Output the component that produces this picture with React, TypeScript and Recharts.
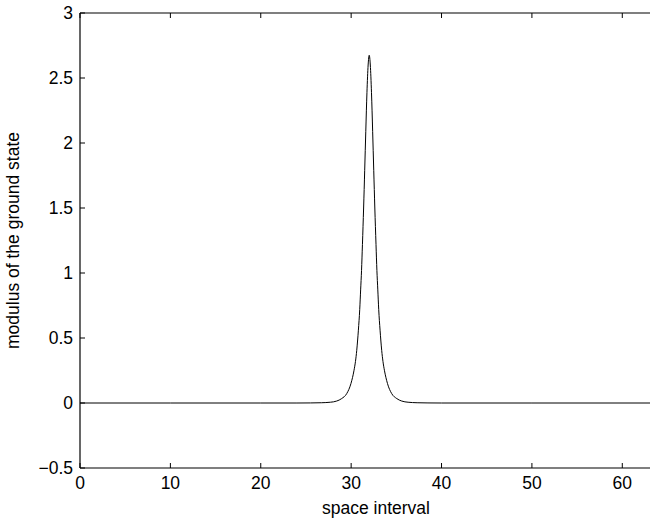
import { Line, LineChart, XAxis, YAxis } from 'recharts'

// sampled read-off of the ground state modulus along the space interval
const xs = [
  0, 10, 20, 24, 25.5, 26.7, 27.7, 28.4, 28.95, 29.51, 29.98, 30.32, 30.48, 30.62, 30.8, 30.95, 31.05,
  31.15, 31.25, 31.38, 31.5, 31.62, 31.75, 31.88, 32, 32.12, 32.25, 32.38, 32.5, 32.62, 32.75, 32.85,
  32.95, 33.05, 33.2, 33.38, 33.52, 33.68, 34.02, 34.49, 35.05, 35.6, 36.3, 37.3, 38.5, 40, 50, 65.5,
]
const ys = [
  0, 0, 0, 0, 0.0005, 0.002, 0.006, 0.015, 0.034, 0.072, 0.15, 0.252, 0.32, 0.405, 0.56, 0.72, 0.87,
  1.02, 1.22, 1.5, 1.79, 2.09, 2.39, 2.6, 2.675, 2.6, 2.39, 2.09, 1.79, 1.5, 1.22, 1.02,
  0.87, 0.72, 0.56, 0.405, 0.32, 0.252, 0.15, 0.072, 0.034, 0.015, 0.006, 0.002, 0.0005, 0, 0, 0,
]
const xTicks = [0, 10, 20, 30, 40, 50, 60]
const yTicks = [-0.5, 0, 0.5, 1, 1.5, 2, 2.5, 3]

const data = xs.map((x, i) => ({ x, y: ys[i] }))

const FONT = '"Liberation Sans", Arial, Helvetica, sans-serif'
const TICK_LEN = 5

const fmt = (v: number) => (v < 0 ? '\u2212' + String(-v) : String(v))

const YTick = ({ x = 0, y = 0, payload }: any) => (
  <g>
    <line x1={x} y1={y} x2={x + TICK_LEN} y2={y} stroke="#000" strokeWidth={1} />
    <text x={x - 7} y={y} textAnchor="end" dominantBaseline="central" fontSize={17.5} fontFamily={FONT} fill="#000">
      {fmt(payload?.value)}
    </text>
  </g>
)

const XTick = ({ x = 0, y = 0, payload }: any) => (
  <g>
    <line x1={x} y1={y} x2={x} y2={y - TICK_LEN} stroke="#000" strokeWidth={1} />
    <text x={x} y={y + 15} textAnchor="middle" dominantBaseline="central" fontSize={17.5} fontFamily={FONT} fill="#000">
      {fmt(payload?.value)}
    </text>
  </g>
)

const TopTick = ({ x = 0, y = 0 }: any) => (
  <line x1={x} y1={y} x2={x} y2={y + TICK_LEN} stroke="#000" strokeWidth={1} />
)

const App = () => {
  return (
    <div style={{ position: 'absolute', left: 0, top: 0, width: 650, height: 521, overflow: 'hidden', background: '#fff' }}>
      <LineChart width={672} height={521} data={data} margin={{ top: 12, right: 0, left: 0, bottom: 0 }}>
        <XAxis
          dataKey="x"
          type="number"
          domain={[0, 65.5]}
          ticks={xTicks}
          interval={0}
          height={53}
          tickSize={0}
          tickMargin={0}
          tickLine={false}
          axisLine={{ stroke: '#000', strokeWidth: 1.2 }}
          tick={<XTick />}
          allowDataOverflow
          label={{
            content: ({ viewBox }: any) => (
              <text
                x={viewBox.x + viewBox.width / 2}
                y={viewBox.y + 40}
                textAnchor="middle"
                dominantBaseline="central"
                fontSize={17.5}
                fontFamily={FONT}
                fill="#000"
              >
                space interval
              </text>
            ),
          }}
        />
        <XAxis
          xAxisId="top"
          orientation="top"
          dataKey="x"
          type="number"
          domain={[0, 65.5]}
          ticks={xTicks}
          interval={0}
          height={1}
          tickSize={0}
          tickMargin={0}
          tickLine={false}
          axisLine={{ stroke: '#000', strokeWidth: 1.2 }}
          tick={<TopTick />}
          allowDataOverflow
        />
        <YAxis
          type="number"
          domain={[-0.5, 3]}
          ticks={yTicks}
          interval={0}
          width={80}
          tickSize={0}
          tickMargin={0}
          tickLine={false}
          axisLine={{ stroke: '#000', strokeWidth: 1.2 }}
          tick={<YTick />}
          allowDataOverflow
          label={{
            content: ({ viewBox }: any) => {
              const cx = viewBox.x + 13
              const cy = viewBox.y + viewBox.height / 2
              return (
                <text
                  x={cx}
                  y={cy}
                  transform={`rotate(-90, ${cx}, ${cy})`}
                  textAnchor="middle"
                  dominantBaseline="central"
                  fontSize={17.5}
                  fontFamily={FONT}
                  fill="#000"
                >
                  modulus of the ground state
                </text>
              )
            },
          }}
        />
        <Line
          type="monotone"
          dataKey="y"
          stroke="#000"
          strokeWidth={1}
          dot={false}
          activeDot={false}
          isAnimationActive={false}
        />
      </LineChart>
    </div>
  )
}

export default App
